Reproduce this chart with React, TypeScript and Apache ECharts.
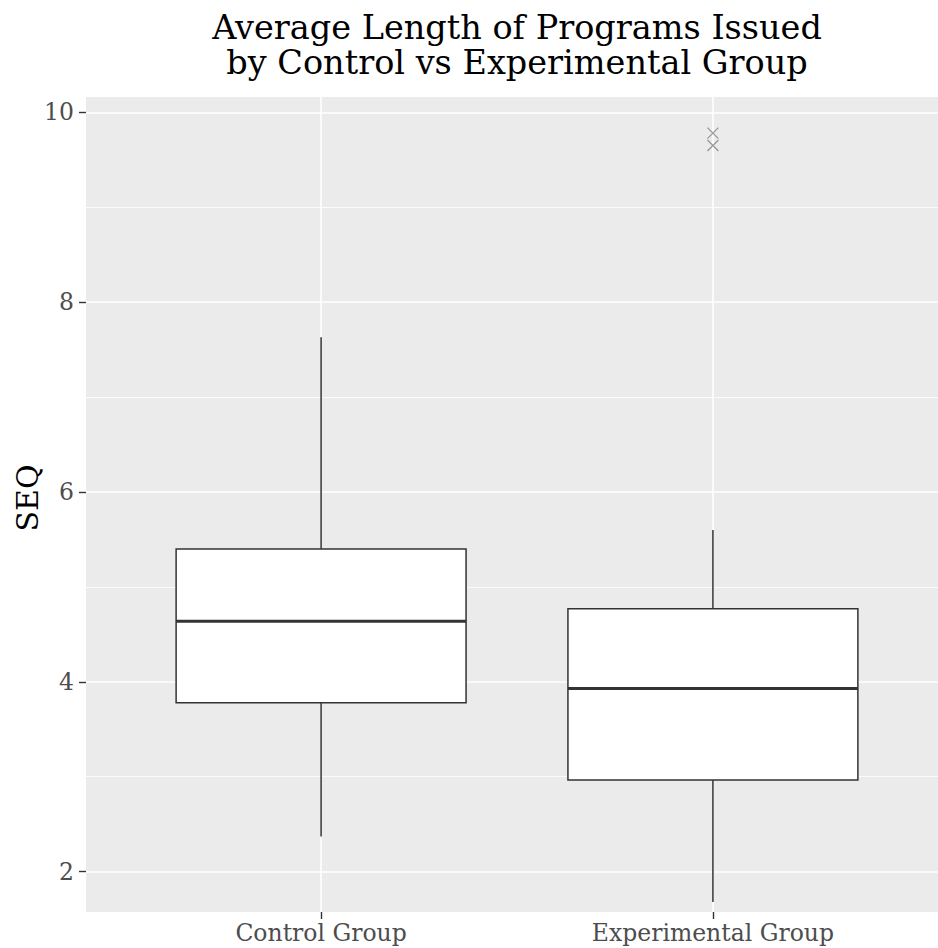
import React, { useEffect, useRef } from "react";
import * as echarts from "echarts";

const categories = ["Control Group", "Experimental Group"];
const lowWhisker = [2.37, 1.68];
const q1 = [3.78, 2.965];
const median = [4.638, 3.93];
const q3 = [5.4, 4.77];
const highWhisker = [7.63, 5.6];
const outlierGroup = [2, 2];
const outlierValue = [9.78, 9.65];
const yMajorTicks = [2, 4, 6, 8, 10];
const yMinorTicks = [3, 5, 7, 9];
const titleLines = ["Average Length of Programs Issued", "by Control vs Experimental Group"];
const yTitle = "SEQ";

const FONT = "DejaVu Serif";

export default function App() {
  const ref = useRef<HTMLDivElement>(null);
  useEffect(() => {
    document.body.style.margin = "0";
    const chart = echarts.init(ref.current!, null, { renderer: "svg" });
    const boxData = categories.map((_, i) => [i + 1, lowWhisker[i], q1[i], median[i], q3[i], highWhisker[i]]);
    const outData = outlierGroup.map((g, i) => [g, outlierValue[i]]);
    const xPositions = categories.map((_, i) => i + 1);
    chart.setOption({
      animation: false,
      backgroundColor: "#ffffff",
      graphic: [
        ...titleLines.map((t, i) => ({
          type: "text",
          x: 517,
          y: 11 + i * 35,
          style: {
            text: t,
            font: `33.5px '${FONT}'`,
            fill: "#000000",
            textAlign: "center",
            textVerticalAlign: "top",
            lineHeight: 33,
          },
        })),
        {
          type: "text",
          x: 27,
          y: 498,
          rotation: Math.PI / 2,
          style: {
            text: yTitle,
            font: `30px '${FONT}'`,
            fill: "#000000",
            textAlign: "center",
            textVerticalAlign: "middle",
          },
        },
      ],
      grid: {
        left: 86,
        top: 97,
        right: -10,
        bottom: 36,
        show: true,
        backgroundColor: "#EBEBEB",
        borderWidth: 0,
        containLabel: false,
        outerBoundsMode: "none",
      },
      xAxis: {
        type: "value",
        min: 0.4,
        max: 2.6,
        axisLine: { show: false },
        splitLine: { show: false },
        axisTick: {
          show: true,
          customValues: xPositions,
          length: 7,
          lineStyle: { color: "#333333", width: 1.4 },
        },
        axisLabel: {
          customValues: xPositions,
          formatter: (v: number) => categories[Math.round(v) - 1] ?? "",
          color: "#4D4D4D",
          fontFamily: FONT,
          fontSize: 23.5,
          margin: 9,
        },
      },
      yAxis: {
        type: "value",
        min: 1.575,
        max: 10.161,
        axisLine: { show: false },
        splitLine: { show: false },
        axisTick: {
          show: true,
          customValues: yMajorTicks,
          length: 7,
          lineStyle: { color: "#333333", width: 1.4 },
        },
        axisLabel: {
          customValues: yMajorTicks,
          color: "#4D4D4D",
          fontFamily: FONT,
          fontSize: 23.5,
          margin: 12,
        },
      },
      series: [
        {
          type: "line",
          data: [],
          z: 1,
          silent: true,
          markLine: {
            silent: true,
            z: 1,
            symbol: "none",
            label: { show: false },
            data: [
              ...yMinorTicks.map((v) => ({ yAxis: v, lineStyle: { color: "#FFFFFF", width: 0.8, type: "solid" } })),
              ...yMajorTicks.map((v) => ({ yAxis: v, lineStyle: { color: "#FFFFFF", width: 1.6, type: "solid" } })),
              ...xPositions.map((v) => ({ xAxis: v, lineStyle: { color: "#FFFFFF", width: 1.6, type: "solid" } })),
            ],
          },
        },
        {
          type: "custom",
          z: 10,
          data: boxData,
          encode: { x: 0, y: [1, 2, 3, 4, 5] },
          renderItem: (params: any, api: any) => {
            const x = api.value(0);
            const lo = api.coord([x, api.value(1)]);
            const b1 = api.coord([x, api.value(2)]);
            const md = api.coord([x, api.value(3)]);
            const b3 = api.coord([x, api.value(4)]);
            const hi = api.coord([x, api.value(5)]);
            const w = api.size([0.74, 0])[0];
            const cx = lo[0];
            const stroke = { stroke: "#333333", lineWidth: 1.5 };
            return {
              type: "group",
              children: [
                { type: "line", shape: { x1: cx, y1: hi[1], x2: cx, y2: b3[1] }, style: stroke },
                { type: "line", shape: { x1: cx, y1: b1[1], x2: cx, y2: lo[1] }, style: stroke },
                {
                  type: "rect",
                  shape: { x: cx - w / 2, y: b3[1], width: w, height: b1[1] - b3[1] },
                  style: { fill: "#FFFFFF", stroke: "#333333", lineWidth: 1.5 },
                },
                {
                  type: "line",
                  shape: { x1: cx - w / 2, y1: md[1], x2: cx + w / 2, y2: md[1] },
                  style: { stroke: "#333333", lineWidth: 3 },
                },
              ],
            };
          },
        },
        {
          type: "scatter",
          z: 11,
          data: outData,
          symbol: "path://M0,0L10,10M10,0L0,10",
          symbolSize: 11,
          itemStyle: { color: "none", borderColor: "#7F7F7F", borderWidth: 1.2 },
        },
      ],
    });
    return () => chart.dispose();
  }, []);
  return <div ref={ref} style={{ width: 938, height: 948 }} />;
}
